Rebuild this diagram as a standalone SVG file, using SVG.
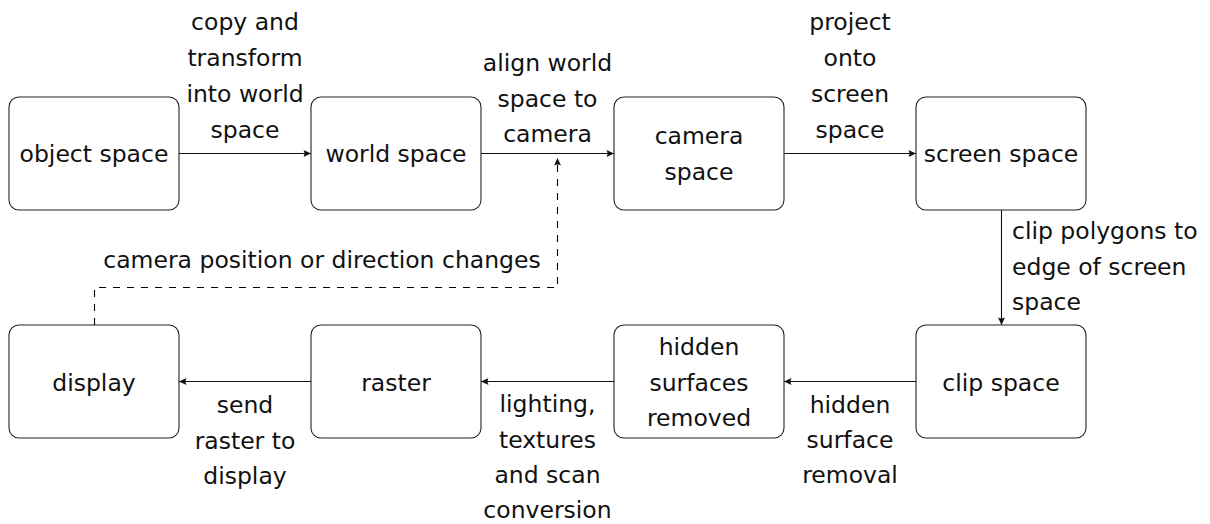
<svg xmlns="http://www.w3.org/2000/svg" width="1210" height="524" viewBox="0 0 1210 524">
<style>
.box{fill:#fff;stroke:#222;stroke-width:1.1}
text{font-family:"DejaVu Sans","Liberation Sans",sans-serif;font-size:23.5px;fill:#111}
.c{text-anchor:middle}
.e{stroke:#111;stroke-width:1.1;fill:none}
.d{stroke:#000;stroke-dasharray:7 7}
</style>
<defs>
<marker id="ah" viewBox="-8 -4 9 8" refX="0" refY="0" markerWidth="9" markerHeight="8" markerUnits="userSpaceOnUse" orient="auto">
<path d="M0,0 L-7.5,-3.5 Q-5.5,0 -7.5,3.5 Z" fill="#111"/>
</marker>
</defs>
<rect width="1210" height="524" fill="#fff"/>
<g id="object-space"><rect class="box" x="9" y="97" width="170" height="113" rx="10"/><text class="c" x="94" y="162">object space</text></g>
<g id="world-space"><rect class="box" x="311" y="97" width="170" height="113" rx="10"/><text class="c" x="396" y="162">world space</text></g>
<g id="camera-space"><rect class="box" x="614" y="97" width="170" height="113" rx="10"/><text class="c" x="699" y="144">camera</text><text class="c" x="699" y="180">space</text></g>
<g id="screen-space"><rect class="box" x="916" y="97" width="170" height="113" rx="10"/><text class="c" x="1001" y="162">screen space</text></g>
<g id="display"><rect class="box" x="9" y="325" width="170" height="113" rx="10"/><text class="c" x="94" y="390.5">display</text></g>
<g id="raster"><rect class="box" x="311" y="325" width="170" height="113" rx="10"/><text class="c" x="396" y="390.5">raster</text></g>
<g id="hidden-surfaces-removed"><rect class="box" x="614" y="325" width="170" height="113" rx="10"/><text class="c" x="699" y="354.5">hidden</text><text class="c" x="699" y="390.5">surfaces</text><text class="c" x="699" y="426">removed</text></g>
<g id="clip-space"><rect class="box" x="916" y="325" width="170" height="113" rx="10"/><text class="c" x="1001" y="390.5">clip space</text></g>
<g id="connectors">
<path class="e" d="M179,153.5 H311" marker-end="url(#ah)"/>
<path class="e" d="M481,153.5 H614" marker-end="url(#ah)"/>
<path class="e" d="M784,153.5 H916" marker-end="url(#ah)"/>
<path class="e" d="M1001.5,210 V325" marker-end="url(#ah)"/>
<path class="e" d="M916,381.5 H784" marker-end="url(#ah)"/>
<path class="e" d="M614,381.5 H481" marker-end="url(#ah)"/>
<path class="e" d="M311,381.5 H179" marker-end="url(#ah)"/>
<path class="e d" d="M94.5,325 V287.5 H557.5 V158" marker-end="url(#ah)"/>
<text class="c" x="245" y="30">copy and</text><text class="c" x="245" y="66">transform</text><text class="c" x="245" y="102">into world</text><text class="c" x="245" y="138">space</text>
<text class="c" x="547.5" y="71">align world</text><text class="c" x="547.5" y="106.5">space to</text><text class="c" x="547.5" y="142">camera</text>
<text class="c" x="850" y="30">project</text><text class="c" x="850" y="66">onto</text><text class="c" x="850" y="102">screen</text><text class="c" x="850" y="138">space</text>
<text x="1012" y="239">clip polygons to</text><text x="1012" y="274.5">edge of screen</text><text x="1012" y="310">space</text>
<text class="c" x="850" y="413">hidden</text><text class="c" x="850" y="448">surface</text><text class="c" x="850" y="483">removal</text>
<text class="c" x="547.5" y="412">lighting,</text><text class="c" x="547.5" y="447.5">textures</text><text class="c" x="547.5" y="483">and scan</text><text class="c" x="547.5" y="518">conversion</text>
<text class="c" x="245" y="413">send</text><text class="c" x="245" y="448.5">raster to</text><text class="c" x="245" y="484">display</text>
<text class="c" x="322" y="268">camera position or direction changes</text>
</g>
</svg>
